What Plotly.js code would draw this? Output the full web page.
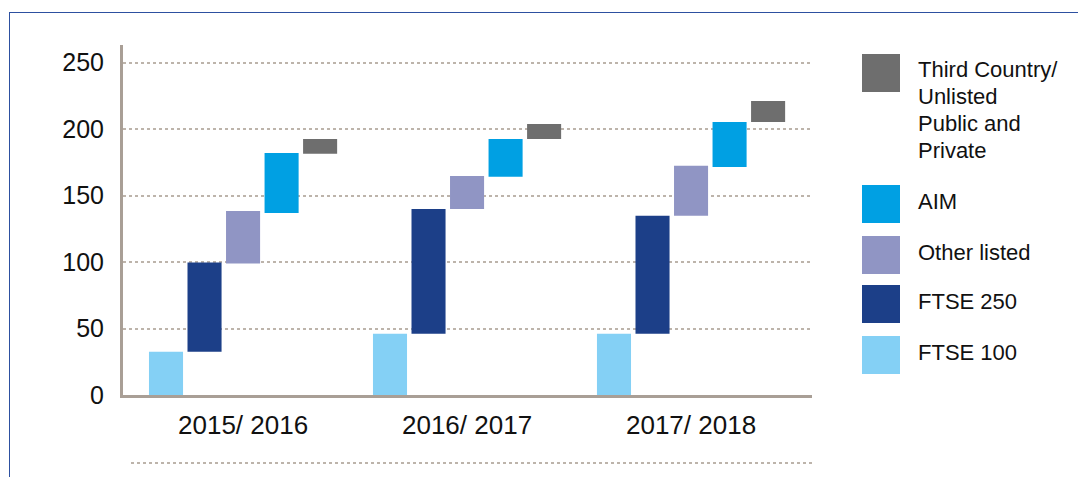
<!DOCTYPE html>
<html>
<head>
<meta charset="utf-8">
<script src="https://cdn.plot.ly/plotly-3.0.1.min.js"></script>
<style>
  html, body { margin: 0; padding: 0; background: #ffffff; }
  #wrap { position: relative; width: 1078px; height: 477px; overflow: hidden; }
  #chart { position: absolute; left: 0; top: 0; width: 1078px; height: 477px; }
  #frame { position: absolute; left: 9px; top: 12px; width: 1100px; height: 500px;
           border-top: 1.5px solid #2d50a0; border-left: 1.5px solid #2d50a0; pointer-events: none; }
</style>
</head>
<body>
<div id="wrap">
  <div id="chart"></div>
  <div id="frame"></div>
</div>
<script>
// ---- Data ----
const years = ['2015/ 2016', '2016/ 2017', '2017/ 2018'];
const seriesNames = ['FTSE 100', 'FTSE 250', 'Other listed', 'AIM', 'Third Country/ Unlisted Public and Private'];
const legendLabels = [['FTSE 100'], ['FTSE 250'], ['Other listed'], ['AIM'], ['Third Country/', 'Unlisted', 'Public and', 'Private']];
const seriesColors = ['#84d0f5', '#1c3f88', '#9095c4', '#00a0e3', '#6e6e6e'];

const ftse100Start = [0, 0, 0];
const ftse100End   = [32.5, 46.1, 46.1];
const ftse250Start = [32.5, 46.1, 46.1];
const ftse250End   = [99.7, 140.0, 134.8];
const otherStart   = [98.9, 140.0, 134.8];
const otherEnd     = [138.5, 164.8, 172.4];
const aimStart     = [137.0, 164.1, 171.6];
const aimEnd       = [182.1, 192.6, 205.4];
const thirdStart   = [181.4, 192.6, 205.4];
const thirdEnd     = [192.6, 203.9, 221.2];

const yTicks = [0, 50, 100, 150, 200, 250];

// ---- Build traces ----
const starts = [ftse100Start, ftse250Start, otherStart, aimStart, thirdStart];
const ends   = [ftse100End, ftse250End, otherEnd, aimEnd, thirdEnd];
const xIdx = years.map((_, i) => i);

const traces = seriesNames.map((name, k) => ({
  type: 'bar',
  name: name,
  x: xIdx,
  base: starts[k],
  y: ends[k].map((e, i) => e - starts[k][i]),
  marker: { color: seriesColors[k], line: { width: 0 } },
  showlegend: false,
  hovertemplate: name + ': %{base:.0f}–%{y:.0f}<extra></extra>'
}));

// ---- Layout geometry ----
const W = 1078, H = 477;
const plotL = 123, plotR = 812, plotT = 45, plotB = 395;
const pw = plotR - plotL, ph = plotB - plotT;
const px2x = p => (p - plotL) / pw;
const px2y = p => (plotB - p) / ph;

const taupe = '#a99f96';
const gridCol = '#bdb4ab';
const txtCol = '#111111';
const font = 'Liberation Sans, Arial, Helvetica, sans-serif';

// Manual legend (top to bottom: Third, AIM, Other, FTSE 250, FTSE 100)
const legendSquares = [ // [seriesIndex, topPx]
  [4, 54], [3, 185], [2, 236], [1, 285], [0, 336]
];
const sq = 38;
const lineStep = 26.7;
const shapes = [];
const annotations = [];
legendSquares.forEach(([k, top]) => {
  shapes.push({
    type: 'rect', xref: 'paper', yref: 'paper',
    x0: px2x(862), x1: px2x(862 + sq), y0: px2y(top + sq), y1: px2y(top),
    fillcolor: seriesColors[k], line: { width: 0 }
  });
  const lines = legendLabels[k];
  const firstCenter = lines.length > 1 ? top + 16 : top + sq / 2 - 2.5;
  lines.forEach((ln, j) => {
    annotations.push({
      xref: 'paper', yref: 'paper', x: px2x(916), y: px2y(firstCenter + j * lineStep),
      xanchor: 'left', yanchor: 'middle', align: 'left', showarrow: false,
      text: ln, font: { family: font, size: 22, color: txtCol }
    });
  });
});

// dotted line below the category labels
shapes.push({
  type: 'line', xref: 'paper', yref: 'paper',
  x0: px2x(131), x1: px2x(812), y0: px2y(463), y1: px2y(463),
  line: { color: gridCol, width: 2, dash: 'dot' }
});

const layout = {
  width: W, height: H,
  margin: { l: plotL, r: W - plotR, t: plotT, b: H - plotB, pad: 0 },
  paper_bgcolor: '#ffffff', plot_bgcolor: '#ffffff',
  barmode: 'group', bargap: 0.14, bargroupgap: 0.116,
  showlegend: false,
  font: { family: font, color: txtCol },
  xaxis: {
    range: [-0.536, 2.54], tickvals: xIdx, ticktext: years,
    showgrid: false, zeroline: false,
    showline: true, linecolor: taupe, linewidth: 3,
    ticks: '', ticklabelstandoff: 5,
    tickfont: { family: font, size: 26, color: txtCol },
    fixedrange: true
  },
  yaxis: {
    range: [0, 263.3], tickvals: yTicks,
    showgrid: true, gridcolor: gridCol, gridwidth: 2, griddash: 'dot',
    zeroline: false,
    showline: true, linecolor: taupe, linewidth: 3,
    ticks: '', ticklabelstandoff: 11,
    tickfont: { family: font, size: 25, color: txtCol },
    fixedrange: true
  },
  shapes: shapes,
  annotations: annotations
};

Plotly.newPlot('chart', traces, layout, { displayModeBar: false, staticPlot: true });
</script>
</body>
</html>
